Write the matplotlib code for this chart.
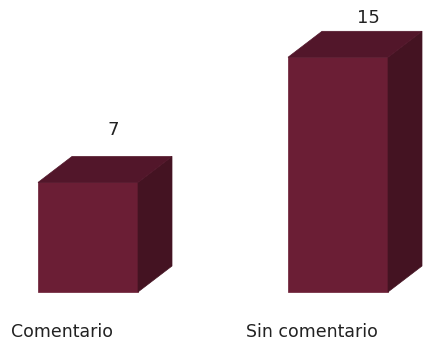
import matplotlib.pyplot as plt
from matplotlib.patches import Polygon

categories = ["Comentario", "Sin comentario"]
values = [7, 15]

front_color = "#6B1E35"
top_color = "#52162A"
side_color = "#441322"

fig = plt.figure(figsize=(4.23, 3.40), dpi=100)
ax = fig.add_axes([0, 0, 1, 1])
ax.set_xlim(-0.352, 1.34)
ax.set_ylim(-3.07, 18.66)
ax.axis("off")

width = 0.4
dx = 0.136   # depth offset in x
dy = 1.66    # depth offset in y
label_gap = [1.66, 0.83]
label_dx = [0.1, 0.12]

for i, (cat, val) in enumerate(zip(categories, values)):
    x0 = i - width / 2
    x1 = i + width / 2
    front = Polygon([(x0, 0), (x1, 0), (x1, val), (x0, val)], closed=True,
                    facecolor=front_color, edgecolor=front_color, lw=0.5)
    top = Polygon([(x0, val), (x1, val), (x1 + dx, val + dy), (x0 + dx, val + dy)],
                  closed=True, facecolor=top_color, edgecolor=top_color, lw=0.5)
    side = Polygon([(x1, 0), (x1 + dx, dy), (x1 + dx, val + dy), (x1, val)],
                   closed=True, facecolor=side_color, edgecolor=side_color, lw=0.5)
    for p in (front, side, top):
        ax.add_patch(p)
    ax.text(i + label_dx[i], val + dy + label_gap[i], str(val), ha="center", va="center",
            fontsize=13, color="#222222")
    ax.text(i - 0.104, -2.56, cat, ha="center", va="center",
            fontsize=12.5, color="#222222")

fig.savefig("out.png", dpi=100)
